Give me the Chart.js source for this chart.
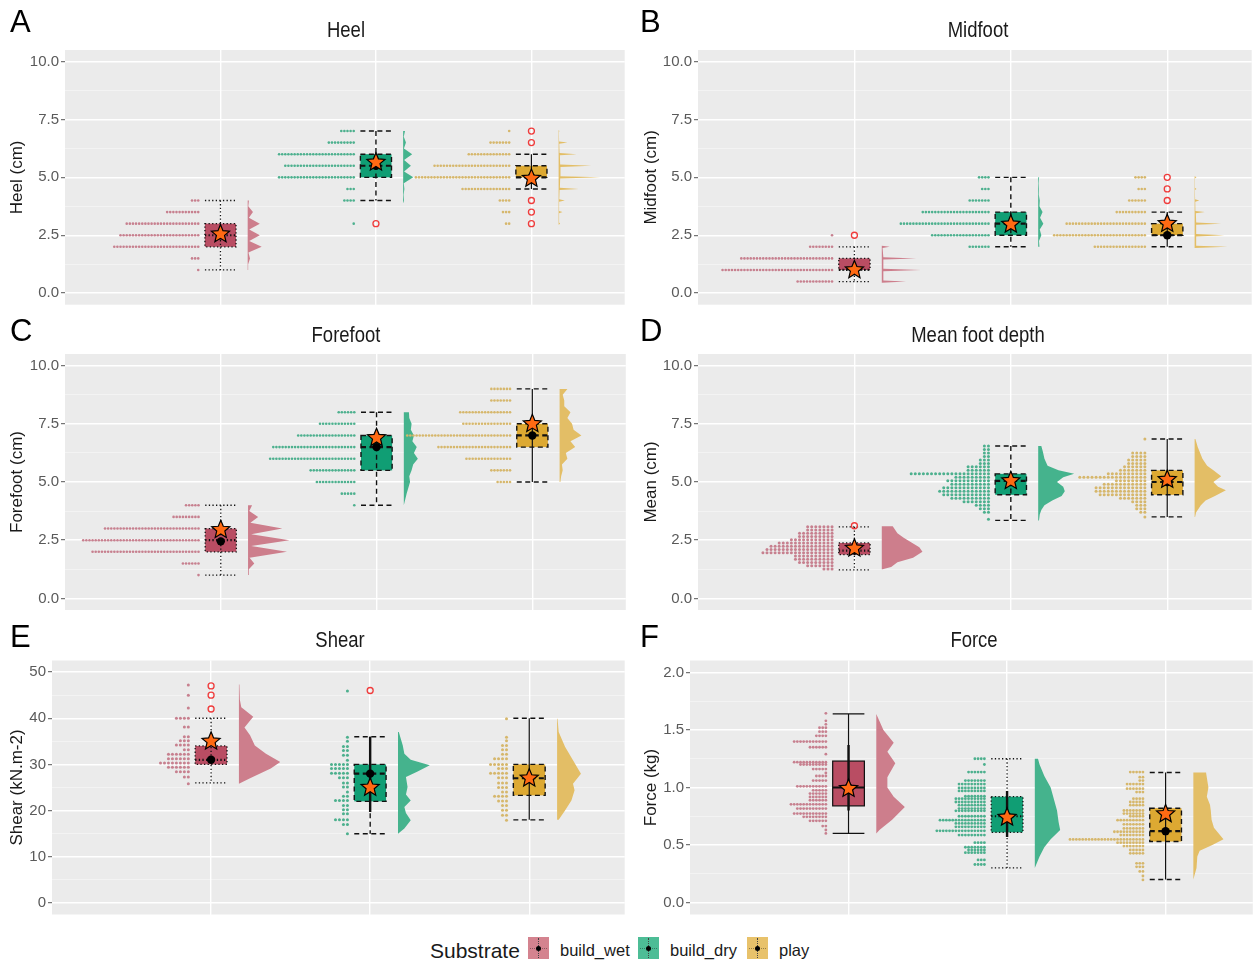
<!DOCTYPE html>
<html>
<head>
<meta charset="utf-8">
<script src="https://cdn.jsdelivr.net/npm/chart.js@4.4.1/dist/chart.umd.min.js"></script>
<style>
    body { margin: 0; width: 1257px; height: 962px; position: relative; overflow: hidden; background: #fff;
           font-family: 'Liberation Sans', Arial, sans-serif; color: #1a1a1a; }
    canvas { position: absolute; }
    .letter { position: absolute; font-size: 31px; line-height: 31px; color: #000; }
    .ptitle { position: absolute; font-family: 'Liberation Sans Narrow', 'Liberation Sans', Arial, sans-serif;
              font-size: 22px; line-height: 22px; transform: translateX(-50%) scaleX(0.84); white-space: nowrap; }
    .leg { position: absolute; white-space: nowrap; }
    .key { position: absolute; top: 937px; width: 21px; height: 22px; }
    .key::before { content: ''; position: absolute; left: 10px; top: 1px; height: 20px; border-left: 1px dotted #444; }
    .key::after { content: ''; position: absolute; left: 8px; top: 9px; width: 5px; height: 5px; border-radius: 50%; background: #000; }
    .key i { position: absolute; left: 2px; right: 2px; top: 11px; border-top: 1px dotted rgba(0,0,0,0.35); }
</style>
</head>
<body>
<div class="leg" style="left:430px;top:939px;font-size:21px;">Substrate</div>
<div class="key" style="left:528px;background:#D4838F;"><i></i></div>
<div class="leg" style="left:560px;top:941px;font-size:16.5px;">build_wet</div>
<div class="key" style="left:638px;background:#4DBD96;"><i></i></div>
<div class="leg" style="left:670px;top:941px;font-size:16.5px;">build_dry</div>
<div class="key" style="left:747px;background:#E8C26B;"><i></i></div>
<div class="leg" style="left:779px;top:941px;font-size:16.5px;">play</div>

<script>
// Substrate groups, placed at x = 1, 2, 3
const groups = ['build_wet', 'build_dry', 'play'];

// Tick labels
const cmTicks = [0, 2.5, 5, 7.5, 10];
const cmMinor = [1.25, 3.75, 6.25, 8.75];
const shearTicks = [0, 10, 20, 30, 40, 50];
const shearMinor = [5, 15, 25, 35, 45];
const forceTicks = [0, 0.5, 1, 1.5, 2];
const forceMinor = [0.25, 0.75, 1.25, 1.75];

// ---- Heel ----
const heelDotY = [[1, 1.5, 2, 2.5, 3, 3.5, 4], [3, 4, 4.5, 5, 5.5, 6, 6.5, 7], [3, 3.5, 4, 4.5, 5, 5.5, 6, 6.5, 7]];
const heelDotN = [[1, 3, 28, 26, 24, 11, 3], [1, 4, 3, 25, 23, 25, 9, 5], [2, 3, 4, 16, 31, 25, 14, 7, 1]];
const heelDensY = [
    [1.0, 1.25, 1.5, 1.75, 2.0, 2.25, 2.5, 2.75, 3.0, 3.25, 3.5, 3.75, 4.0],
    [3.9, 4.0, 4.25, 4.5, 4.75, 5.0, 5.25, 5.5, 5.75, 6.0, 6.25, 6.5, 6.75, 7.0],
    [2.95, 3.0, 3.05, 3.45, 3.5, 3.55, 3.95, 4.0, 4.05, 4.45, 4.5, 4.55, 4.95, 5.0, 5.05, 5.45, 5.5, 5.55, 5.95, 6.0, 6.05, 6.45, 6.5, 6.55, 6.95, 7.0, 7.05]
];
const heelDensW = [
    [0.003, 0.003, 0.015, 0.005, 0.09, 0.01, 0.078, 0.01, 0.078, 0.008, 0.034, 0.004, 0.008],
    [0.002, 0.006, 0.003, 0.008, 0.004, 0.065, 0.006, 0.05, 0.006, 0.058, 0.005, 0.018, 0.004, 0.012],
    [0, 0.01, 0.003, 0.003, 0.025, 0.003, 0.003, 0.04, 0.004, 0.006, 0.13, 0.008, 0.01, 0.27, 0.012, 0.012, 0.21, 0.01, 0.008, 0.116, 0.006, 0.004, 0.057, 0.003, 0.002, 0.005, 0]
];
const heelBox = [[1, 2, 2.5, 3, 4], [4, 5, 5.5, 6, 7], [4.5, 5, 5, 5.5, 6]];
const heelMean = [2.55, 5.65, 4.95];
const heelMid = [2.5, 5.5, 5.0];
const heelOut = [[], [3], [3, 3.5, 4, 6.5, 7]];

// ---- Midfoot ----
const midDotY = [[0.5, 1, 1.5, 2, 2.5], [2, 2.5, 3, 3.5, 4, 4.5, 5], [2, 2.5, 3, 3.5, 4, 4.5, 5]];
const midDotN = [[12, 36, 30, 8, 1], [7, 19, 29, 22, 7, 3, 4], [17, 30, 26, 10, 6, 3, 4]];
const midDensY = [
    [0.45, 0.5, 0.55, 0.95, 1.0, 1.05, 1.45, 1.5, 1.55, 1.95, 2.0, 2.05],
    [2.0, 2.25, 2.5, 2.75, 3.0, 3.25, 3.5, 3.75, 4.0, 4.25, 4.5, 4.75, 5.0],
    [1.95, 2.0, 2.05, 2.45, 2.5, 2.55, 2.95, 3.0, 3.05, 3.45, 3.5, 3.55, 3.95, 4.0, 4.05, 4.45, 4.5, 4.55, 4.95, 5.0, 5.05]
];
const midDensW = [
    [0, 0.155, 0.01, 0.01, 0.25, 0.01, 0.01, 0.22, 0.01, 0.005, 0.05, 0],
    [0.008, 0.005, 0.02, 0.01, 0.033, 0.012, 0.028, 0.008, 0.01, 0.004, 0.005, 0.003, 0.006],
    [0, 0.21, 0.01, 0.01, 0.19, 0.01, 0.01, 0.17, 0.01, 0.008, 0.065, 0.005, 0.004, 0.03, 0.003, 0.002, 0.012, 0.002, 0.002, 0.012, 0]
];
const midBox = [[0.5, 1, 1, 1.5, 2], [2, 2.5, 3, 3.5, 5], [2, 2.5, 2.5, 3, 3.5]];
const midMean = [1.0, 2.97, 3.0];
const midMid = [1.0, 3.0, 2.5];
const midOut = [[2.5], [], [4, 4.5, 5]];

// ---- Forefoot ----
const foreDotY = [[1, 1.5, 2, 2.5, 3, 3.5, 4], [4, 4.5, 5, 5.5, 6, 6.5, 7, 7.5, 8], [5, 5.5, 6, 6.5, 7, 7.5, 8, 8.5, 9]];
const foreDotN = [[1, 6, 35, 38, 31, 9, 5], [1, 5, 13, 15, 28, 27, 19, 12, 6], [5, 7, 15, 24, 34, 16, 17, 7, 7]];
const foreDensY = [
    [1.0, 1.25, 1.5, 1.75, 2.0, 2.25, 2.5, 2.75, 3.0, 3.25, 3.5, 3.75, 4.0],
    [4.0, 4.5, 5.0, 5.25, 5.5, 5.75, 6.0, 6.25, 6.5, 6.75, 7.0, 7.25, 7.5, 7.75, 8.0],
    [5.0, 5.25, 5.5, 5.75, 6.0, 6.25, 6.5, 6.75, 7.0, 7.25, 7.5, 7.75, 8.0, 8.25, 8.5, 8.75, 9.0]
];
const foreDensW = [
    [0.005, 0.005, 0.04, 0.01, 0.25, 0.02, 0.266, 0.02, 0.22, 0.015, 0.065, 0.008, 0.026],
    [0, 0.018, 0.04, 0.035, 0.05, 0.06, 0.09, 0.065, 0.083, 0.055, 0.065, 0.045, 0.05, 0.035, 0.033],
    [0.005, 0.01, 0.02, 0.015, 0.05, 0.04, 0.1, 0.07, 0.14, 0.09, 0.08, 0.05, 0.07, 0.03, 0.03, 0.02, 0.05]
];
const foreBox = [[1, 2, 2.5, 3, 4], [4, 5.5, 6.5, 7, 8], [5, 6.5, 7, 7.5, 9]];
const foreMean = [2.95, 6.9, 7.5];
const foreMid = [2.45, 6.5, 7.0];
const foreOut = [[], [], []];

// ---- Mean foot depth ----
const meanDotY = [
    [1.26, 1.4, 1.54, 1.68, 1.82, 1.96, 2.1, 2.24, 2.38, 2.52, 2.66, 2.8, 2.94, 3.08],
    [3.4, 3.7, 3.85, 4.0, 4.15, 4.3, 4.45, 4.6, 4.75, 4.9, 5.05, 5.2, 5.35, 5.5, 5.65, 5.8, 5.95, 6.1, 6.25, 6.4, 6.55],
    [3.5, 3.7, 3.85, 4.0, 4.15, 4.3, 4.45, 4.6, 4.75, 4.9, 5.05, 5.2, 5.35, 5.5, 5.65, 5.8, 5.95, 6.1, 6.25, 6.85]
];
const meanDotN = [
    [3, 7, 9, 10, 10, 18, 17, 16, 14, 11, 9, 9, 7, 7],
    [1, 2, 3, 4, 7, 10, 12, 13, 12, 10, 11, 9, 20, 6, 6, 3, 3, 2, 2, 2, 2],
    [1, 2, 3, 3, 4, 7, 12, 13, 13, 11, 8, 17, 10, 7, 6, 5, 5, 4, 4, 1]
];
const meanDensY = [
    [1.25, 1.35, 1.55, 1.75, 2.0, 2.2, 2.4, 2.6, 2.8, 3.1],
    [3.35, 3.6, 3.8, 4.0, 4.2, 4.4, 4.6, 4.8, 5.0, 5.2, 5.35, 5.5, 5.7, 6.0, 6.3, 6.55],
    [3.5, 3.7, 4.0, 4.2, 4.4, 4.65, 4.8, 5.0, 5.25, 5.5, 5.7, 6.0, 6.5, 6.85]
];
const meanDensW = [
    [0.005, 0.06, 0.1, 0.2, 0.26, 0.24, 0.19, 0.14, 0.1, 0.07],
    [0.005, 0.01, 0.02, 0.04, 0.09, 0.15, 0.17, 0.16, 0.12, 0.16, 0.23, 0.13, 0.06, 0.04, 0.03, 0.02],
    [0.003, 0.01, 0.04, 0.07, 0.13, 0.2, 0.15, 0.12, 0.17, 0.12, 0.08, 0.05, 0.02, 0.005]
];
const meanBox = [[1.22, 1.88, 2.05, 2.38, 3.07], [3.35, 4.45, 5.05, 5.35, 6.55], [3.5, 4.45, 5.0, 5.5, 6.85]];
const meanMean = [2.15, 5.05, 5.1];
const meanMid = [2.05, 5.0, 5.0];
const meanOut = [[3.12], [], []];

// ---- Shear ----
const shearDotY = [
    [25.8, 27.3, 28.4, 29.4, 30.3, 31.2, 32.2, 33.2, 34.2, 35.1, 36, 38.1, 40, 42.2, 45, 47.2],
    [15, 17, 18, 19.3, 20.2, 21.1, 22.2, 23.1, 24, 25.1, 26, 27.1, 28.1, 29.1, 30, 30.9, 32, 33, 33.9, 35, 35.9, 45.9],
    [17.9, 19, 20.1, 21.1, 22.1, 23.1, 24, 25, 26, 27.1, 28.1, 29.1, 30, 31.2, 32.2, 33.2, 34.1, 35.1, 35.9, 39.9]
];
const shearDotN = [
    [1, 2, 4, 6, 8, 6, 6, 2, 4, 3, 2, 2, 4, 1, 1, 1],
    [1, 2, 4, 2, 2, 2, 4, 2, 1, 2, 2, 3, 5, 5, 5, 1, 2, 2, 2, 1, 1, 1],
    [1, 2, 2, 2, 3, 4, 2, 3, 3, 3, 5, 3, 5, 4, 2, 2, 2, 1, 1, 1]
];
const shearDensY = [
    [25.8, 27, 28, 29.1, 30.5, 32.3, 34.1, 36.3, 38, 40.3, 42.4, 44, 47.3],
    [15, 16.1, 17.9, 19.5, 20.8, 22.2, 23.5, 25.1, 27.3, 28.4, 29.8, 31, 32.3, 34.1, 37],
    [18, 20, 22.2, 24.4, 25.8, 28, 30.9, 33.8, 37, 39.9]
];
const shearDensW = [
    [0, 0.07, 0.13, 0.2, 0.26, 0.17, 0.1, 0.07, 0.035, 0.09, 0.015, 0.006, 0.003],
    [0, 0.04, 0.08, 0.05, 0.04, 0.08, 0.05, 0.06, 0.05, 0.12, 0.2, 0.08, 0.04, 0.03, 0.005],
    [0.01, 0.05, 0.09, 0.11, 0.1, 0.15, 0.1, 0.05, 0.01, 0.003]
];
const shearBox = [[26, 30, 31, 34, 40], [15, 22, 28, 30, 36], [18, 23.3, 27, 30, 40]];
const shearMean = [35, 25, 27];
const shearMid = [31, 28, 27];
const shearOut = [[42, 45, 47], [46], []];
const shearRange = [null, [19.7, 36], null];

// ---- Force ----
const forceDotY = [
    [1.645, 1.58, 1.55, 1.52, 1.486, 1.45, 1.40, 1.35, 1.29, 1.22, 1.20, 1.16, 1.126, 1.10, 1.06, 1.01, 0.975, 0.947, 0.918, 0.889, 0.854, 0.817, 0.773, 0.745, 0.71, 0.664, 0.63, 0.60],
    [1.25, 1.2, 1.134, 1.06, 1.03, 0.996, 0.97, 0.924, 0.903, 0.874, 0.846, 0.817, 0.797, 0.75, 0.716, 0.687, 0.658, 0.623, 0.586, 0.52, 0.48, 0.456, 0.433, 0.37, 0.33],
    [1.134, 1.09, 1.06, 1.03, 0.99, 0.96, 0.903, 0.874, 0.846, 0.80, 0.773, 0.75, 0.716, 0.68, 0.644, 0.615, 0.586, 0.548, 0.52, 0.49, 0.456, 0.427, 0.34, 0.31, 0.27, 0.23, 0.196]
];
const forceDotN = [
    [1, 1, 1, 3, 3, 4, 11, 6, 1, 11, 9, 5, 1, 4, 5, 10, 5, 6, 6, 6, 12, 10, 11, 8, 6, 2, 1, 1],
    [4, 1, 6, 7, 9, 9, 9, 7, 10, 10, 9, 9, 10, 9, 15, 10, 10, 16, 9, 4, 7, 6, 7, 3, 4],
    [5, 2, 2, 6, 6, 3, 4, 5, 5, 7, 7, 5, 9, 7, 7, 10, 8, 24, 9, 7, 5, 5, 3, 3, 2, 1, 1]
];
const forceDensY = [
    [0.6, 0.63, 0.72, 0.83, 0.92, 1.0, 1.09, 1.21, 1.31, 1.39, 1.5, 1.64],
    [0.3, 0.4, 0.48, 0.55, 0.63, 0.7, 0.8, 0.9, 1.0, 1.1, 1.2, 1.25],
    [0.2, 0.3, 0.4, 0.45, 0.5, 0.55, 0.6, 0.65, 0.72, 0.8, 0.85, 0.92, 1.0, 1.13]
];
const forceDensW = [
    [0, 0.02, 0.1, 0.18, 0.11, 0.07, 0.07, 0.12, 0.07, 0.11, 0.045, 0],
    [0, 0.03, 0.06, 0.1, 0.16, 0.15, 0.14, 0.12, 0.1, 0.06, 0.03, 0.02],
    [0, 0.02, 0.025, 0.04, 0.12, 0.19, 0.16, 0.13, 0.115, 0.11, 0.105, 0.085, 0.095, 0.08]
];
const forceBox = [[0.6, 0.84, 1.0, 1.23, 1.64], [0.3, 0.61, 0.75, 0.92, 1.25], [0.2, 0.53, 0.62, 0.82, 1.13]];
const forceMean = [0.99, 0.74, 0.77];
const forceMid = [1.0, 0.75, 0.62];
const forceOut = [[], [], []];
const forceRange = [[0.8, 1.37], [0.57, 0.97], null];

// Colours per group
const boxFill = ['#B94D63', '#109E74', '#DDA932'];
const densFill = ['#CD7E8C', '#45B38D', '#E3BE66'];
const dotColor = ['#C7808F', '#4DB08E', '#D6B76C'];

// Line styles of box / whisker / caps per group
const styleA = [
    { box: 'dot', whisk: 'dot', cap: 'dot' },
    { box: 'dash', whisk: 'dash', cap: 'dash' },
    { box: 'dash', whisk: 'solid', cap: 'dash' }
];
const styleF = [
    { box: 'solid', whisk: 'solid', cap: 'solid' },
    { box: 'dot', whisk: 'dot', cap: 'dot' },
    { box: 'dash', whisk: 'solid', cap: 'dash' }
];
const dashes = { dot: [1.3, 2.3], dash: [5, 3.5], solid: [] };
const widths = { dot: 1.3, dash: 1.4, solid: 1.2 };

const DOT_GAP = 0.143, BOX_HALF = 0.1, DENS_GAP = 0.175, STAR_R = 9.5;

// Panel layout (canvas box, plot area inside the canvas)
const panels = [
    { letter: 'A', title: 'Heel', yTitle: 'Heel (cm)', left: 0, top: 0, w: 630, h: 310, area: [65, 50, 627, 305],
      xMax: 3.6, yMin: -0.5, yMax: 10.5, ticks: cmTicks, minor: cmMinor, fmt: 1, step: 0.02, r: 1.3, tpad: 7,
      letterTop: 6, titleTop: 19, style: styleA,
      d: { dotY: heelDotY, dotN: heelDotN, densY: heelDensY, densW: heelDensW, box: heelBox, mean: heelMean, mid: heelMid, out: heelOut } },
    { letter: 'B', title: 'Midfoot', yTitle: 'Midfoot (cm)', left: 630, top: 0, w: 627, h: 310, area: [68, 50, 627, 305],
      xMax: 3.54, yMin: -0.5, yMax: 10.5, ticks: cmTicks, minor: cmMinor, fmt: 1, step: 0.02, r: 1.3, tpad: 11,
      letterTop: 6, titleTop: 19, style: styleA,
      d: { dotY: midDotY, dotN: midDotN, densY: midDensY, densW: midDensW, box: midBox, mean: midMean, mid: midMid, out: midOut } },
    { letter: 'C', title: 'Forefoot', yTitle: 'Forefoot (cm)', left: 0, top: 310, w: 630, h: 310, area: [65, 44, 627, 300],
      xMax: 3.6, yMin: -0.5, yMax: 10.5, ticks: cmTicks, minor: cmMinor, fmt: 1, step: 0.02, r: 1.3, tpad: 7,
      letterTop: 315, titleTop: 324, style: styleA,
      d: { dotY: foreDotY, dotN: foreDotN, densY: foreDensY, densW: foreDensW, box: foreBox, mean: foreMean, mid: foreMid, out: foreOut } },
    { letter: 'D', title: 'Mean foot depth', yTitle: 'Mean (cm)', left: 630, top: 310, w: 627, h: 310, area: [68, 44, 627, 300],
      xMax: 3.54, yMin: -0.5, yMax: 10.5, ticks: cmTicks, minor: cmMinor, fmt: 1, step: 0.026, r: 1.5, tpad: 11,
      letterTop: 315, titleTop: 324, style: styleA,
      d: { dotY: meanDotY, dotN: meanDotN, densY: meanDensY, densW: meanDensW, box: meanBox, mean: meanMean, mid: meanMid, out: meanOut } },
    { letter: 'E', title: 'Shear', yTitle: 'Shear (kN.m-2)', left: 0, top: 620, w: 630, h: 300, area: [52, 40.5, 628, 294.5],
      xMax: 3.6, yMin: -2.5, yMax: 52.5, ticks: shearTicks, minor: shearMinor, fmt: 0, step: 0.025, r: 1.5, tpad: 7,
      letterTop: 621, titleTop: 629, style: styleA,
      d: { dotY: shearDotY, dotN: shearDotN, densY: shearDensY, densW: shearDensW, box: shearBox, mean: shearMean, mid: shearMid, out: shearOut, range: shearRange } },
    { letter: 'F', title: 'Force', yTitle: 'Force (kg)', left: 630, top: 620, w: 627, h: 300, area: [60, 40.5, 627, 294.5],
      xMax: 3.55, yMin: -0.105, yMax: 2.105, ticks: forceTicks, minor: forceMinor, fmt: 1, step: 0.02, r: 1.4, tpad: 11,
      letterTop: 621, titleTop: 629, style: styleF,
      d: { dotY: forceDotY, dotN: forceDotN, densY: forceDensY, densW: forceDensW, box: forceBox, mean: forceMean, mid: forceMid, out: forceOut, range: forceRange } }
];

function strokeLine(ctx, x1, y1, x2, y2, kind, w) {
    ctx.setLineDash(dashes[kind]);
    ctx.lineWidth = w || widths[kind];
    ctx.beginPath();
    ctx.moveTo(x1, y1);
    ctx.lineTo(x2, y2);
    ctx.stroke();
}

function drawStar(ctx, x, y, R) {
    ctx.setLineDash([]);
    ctx.beginPath();
    for (let i = 0; i < 10; i++) {
        const a = -Math.PI / 2 + i * Math.PI / 5;
        const rr = i % 2 ? R * 0.45 : R;
        ctx.lineTo(x + rr * Math.cos(a), y + rr * Math.sin(a));
    }
    ctx.closePath();
    ctx.fillStyle = '#FF6A13';
    ctx.fill();
    ctx.strokeStyle = '#000';
    ctx.lineWidth = 1.2;
    ctx.stroke();
}

// Plugin: grey panel, half-violins, boxes, stars
function rainPlugin(p) {
    return {
        id: 'rain' + p.letter,
        beforeDraw(chart) {
            const a = chart.chartArea, ctx = chart.ctx;
            ctx.save();
            ctx.fillStyle = '#EBEBEB';
            ctx.fillRect(a.left, a.top, a.right - a.left, a.bottom - a.top);
            ctx.restore();
        },
        beforeDatasetsDraw(chart) {
            const a = chart.chartArea, ctx = chart.ctx;
            const xs = chart.scales.x, ys = chart.scales.y;
            ctx.save();
            ctx.beginPath();
            ctx.rect(a.left, a.top, a.right - a.left, a.bottom - a.top);
            ctx.clip();
            groups.forEach((name, gi) => {
                const g = gi + 1;
                // half violin
                const dy = p.d.densY[gi], dw = p.d.densW[gi];
                const base = xs.getPixelForValue(g + DENS_GAP);
                ctx.beginPath();
                ctx.moveTo(base, ys.getPixelForValue(dy[0]));
                dy.forEach((v, i) => ctx.lineTo(xs.getPixelForValue(g + DENS_GAP + dw[i]), ys.getPixelForValue(v)));
                ctx.lineTo(base, ys.getPixelForValue(dy[dy.length - 1]));
                ctx.closePath();
                ctx.fillStyle = densFill[gi];
                ctx.fill();

                // box plot
                const [lo, q1, med, q3, hi] = p.d.box[gi];
                const st = p.style[gi];
                const x0 = xs.getPixelForValue(g - BOX_HALF), x1 = xs.getPixelForValue(g + BOX_HALF);
                const xc = xs.getPixelForValue(g);
                const yq1 = ys.getPixelForValue(q1), yq3 = ys.getPixelForValue(q3);
                ctx.fillStyle = boxFill[gi];
                ctx.fillRect(x0, yq3, x1 - x0, yq1 - yq3);
                ctx.strokeStyle = '#111';
                strokeLine(ctx, xc, ys.getPixelForValue(hi), xc, ys.getPixelForValue(lo), st.whisk);
                const rg = p.d.range && p.d.range[gi];
                if (rg) strokeLine(ctx, xc, ys.getPixelForValue(rg[1]), xc, ys.getPixelForValue(rg[0]), 'solid', 2.4);
                ctx.setLineDash(dashes[st.box]);
                ctx.lineWidth = widths[st.box];
                ctx.strokeRect(x0, yq3, x1 - x0, yq1 - yq3);
                strokeLine(ctx, x0, ys.getPixelForValue(med), x1, ys.getPixelForValue(med), st.box, 2.2);
                strokeLine(ctx, x0, ys.getPixelForValue(hi), x1, ys.getPixelForValue(hi), st.cap);
                strokeLine(ctx, x0, ys.getPixelForValue(lo), x1, ys.getPixelForValue(lo), st.cap);
            });
            ctx.restore();
        },
        afterDatasetsDraw(chart) {
            const ctx = chart.ctx, xs = chart.scales.x, ys = chart.scales.y;
            ctx.save();
            p.d.mean.forEach((m, gi) => drawStar(ctx, xs.getPixelForValue(gi + 1), ys.getPixelForValue(m), STAR_R));
            ctx.restore();
        }
    };
}

Chart.defaults.font.family = "'Liberation Sans Narrow', 'Liberation Sans', Arial, sans-serif";

panels.forEach(p => {
    const cv = document.createElement('canvas');
    cv.width = p.w;
    cv.height = p.h;
    cv.style.left = p.left + 'px';
    cv.style.top = p.top + 'px';
    cv.style.width = p.w + 'px';
    cv.style.height = p.h + 'px';
    document.body.appendChild(cv);

    const letter = document.createElement('div');
    letter.className = 'letter';
    letter.textContent = p.letter;
    letter.style.left = (p.left + 10) + 'px';
    letter.style.top = p.letterTop + 'px';
    document.body.appendChild(letter);

    const title = document.createElement('div');
    title.className = 'ptitle';
    title.textContent = p.title;
    title.style.left = (p.left + (p.area[0] + p.area[2]) / 2) + 'px';
    title.style.top = p.titleTop + 'px';
    document.body.appendChild(title);

    const datasets = [];
    groups.forEach((name, gi) => {
        const g = gi + 1;
        const pts = [];
        p.d.dotY[gi].forEach((lv, i) => {
            for (let k = 0; k < p.d.dotN[gi][i]; k++) pts.push({ x: g - DOT_GAP - k * p.step, y: lv });
        });
        datasets.push({ label: name, data: pts, pointRadius: p.r, pointBackgroundColor: dotColor[gi], pointBorderWidth: 0, pointBorderColor: dotColor[gi] });
    });
    const outPts = [];
    p.d.out.forEach((list, gi) => list.forEach(v => outPts.push({ x: gi + 1, y: v })));
    datasets.push({ label: 'outliers', data: outPts, pointRadius: 3, pointBackgroundColor: 'rgba(0,0,0,0)', pointBorderColor: '#F03C3C', pointBorderWidth: 1.3 });
    datasets.push({ label: 'median', data: p.d.mid.map((v, gi) => ({ x: gi + 1, y: v })), pointRadius: 4.2, pointBackgroundColor: '#000', pointBorderWidth: 0 });

    const allTicks = p.ticks.concat(p.minor).sort((a, b) => a - b);
    const isMajor = v => p.ticks.includes(v);

    new Chart(cv, {
        type: 'scatter',
        data: { datasets: datasets },
        options: {
            responsive: false,
            animation: false,
            events: [],
            layout: { padding: { left: 0, top: p.area[1], right: p.w - p.area[2], bottom: p.h - p.area[3] } },
            plugins: { legend: { display: false }, tooltip: { enabled: false } },
            scales: {
                x: {
                    type: 'linear', min: 0, max: p.xMax,
                    afterBuildTicks: s => { s.ticks = groups.map((n, i) => ({ value: i + 1 })); },
                    afterFit: s => { s.height = 0; s.paddingLeft = 0; s.paddingRight = 0; },
                    ticks: { display: false },
                    grid: { color: '#FFFFFF', lineWidth: 1.4, drawTicks: false },
                    border: { display: false }
                },
                y: {
                    type: 'linear', min: p.yMin, max: p.yMax,
                    afterBuildTicks: s => { s.ticks = allTicks.map(v => ({ value: v })); },
                    afterFit: s => { s.width = p.area[0]; s.paddingTop = 0; s.paddingBottom = 0; },
                    ticks: {
                        autoSkip: false, padding: 2, color: '#5a5a5a',
                        font: { size: 15 },
                        callback: v => isMajor(v) ? v.toFixed(p.fmt) : ''
                    },
                    grid: {
                        color: c => (c.tick && isMajor(c.tick.value)) ? '#FFFFFF' : 'rgba(255,255,255,0.6)',
                        lineWidth: c => (c.tick && isMajor(c.tick.value)) ? 1.4 : 0.7,
                        tickColor: c => (c.tick && isMajor(c.tick.value)) ? '#555555' : 'rgba(0,0,0,0)',
                        tickWidth: 1, tickLength: 4, drawTicks: true
                    },
                    border: { display: false },
                    title: {
                        display: true, text: p.yTitle, color: '#1a1a1a',
                        font: { family: "'Liberation Sans', Arial, sans-serif", size: 17 },
                        padding: { top: p.tpad, bottom: 0 }
                    }
                }
            }
        },
        plugins: [rainPlugin(p)]
    });
});
</script>
</body>
</html>
